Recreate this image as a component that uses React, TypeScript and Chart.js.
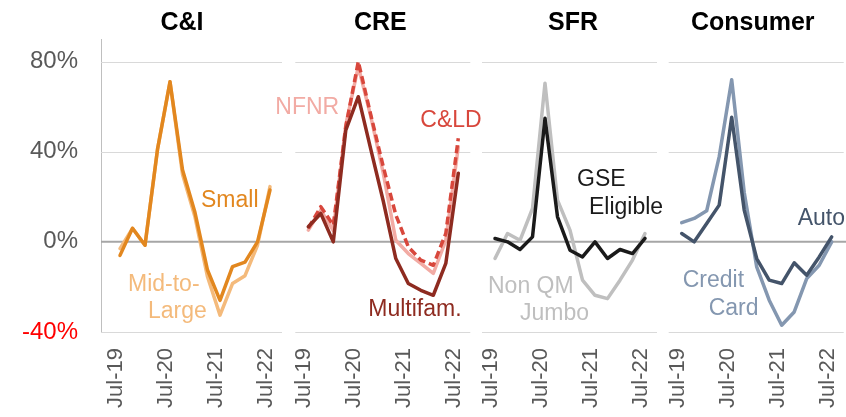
import React, { useEffect, useRef } from 'react';
import { Chart, registerables } from 'chart.js';

Chart.register(...registerables);

// ---------- data ----------
const quarters = ['Jul-19', 'Oct-19', 'Jan-20', 'Apr-20', 'Jul-20', 'Oct-20', 'Jan-21', 'Apr-21', 'Jul-21', 'Oct-21', 'Jan-22', 'Apr-22', 'Jul-22'];
const panelTitles = ['C&I', 'CRE', 'SFR', 'Consumer'];
const yTickValues = [-40, 0, 40, 80];

const ciSmall = [-6, 6, -1.5, 41, 71, 32, 13, -12.5, -26, -11, -9, 0, 23];
const ciMidLarge = [-3, 6, -1.5, 41, 71, 30, 11, -15.5, -32.5, -18.5, -15, -1.5, 24.5];

const creMultifam = [6.7, 12.6, 0, 49.6, 64.4, 41, 18, -7.4, -18.5, -21.5, -23.7, -9.6, 30.4];
const creNFNR = [5.2, 14.1, 5, 51.9, 77.8, 55.6, 30.4, 0.7, -5.2, -9.6, -14, 0.7, 42.2];
const creCLD = [6, 15.6, 7.4, 51.1, 80, 56.3, 33.3, 12, -2.2, -8.1, -10.4, 3.7, 46];

const sfrGSE = [1.5, 0, -3.4, 2.2, 54.8, 11.1, -3.7, -6.7, 0, -7.4, -3.4, -5.2, 1.5];
const sfrNonQMJumbo = [-7.4, 3.7, 0.7, 14.8, 70.4, 18.5, 5.2, -17, -23.7, -25.2, -17, -8.1, 3.7];

const conAuto = [3.7, 0, 8.1, 16.3, 55.3, 14.1, -7.4, -17, -18.5, -9.3, -14.8, -6.7, 2.2];
const conCreditCard = [8.5, 10.4, 13.8, 37.8, 71.9, 22, -11.1, -25.9, -37, -31.1, -16.3, -10.4, 0];

// ---------- styling ----------
const FONT = '"Liberation Sans", Arial, Helvetica, sans-serif';

const C_SMALL = '#E2871F';
const C_MIDLARGE = '#F4BA7B';
const C_MULTI = '#8E2B20';
const C_NFNR = '#F2ABA4';
const C_CLD = '#D8473C';
const C_GSE = '#1A1A1A';
const C_NONQM = '#BFBFBF';
const C_AUTO = '#44546A';
const C_CREDIT = '#8497B0';

type SeriesDef = { name: string; panel: number; values: number[]; color: string; dash?: number[] };

// earlier entries are drawn on top
const series: SeriesDef[] = [
  { name: 'Small', panel: 0, values: ciSmall, color: C_SMALL },
  { name: 'Mid-to-Large', panel: 0, values: ciMidLarge, color: C_MIDLARGE },
  { name: 'Multifam.', panel: 1, values: creMultifam, color: C_MULTI },
  { name: 'C&LD', panel: 1, values: creCLD, color: C_CLD, dash: [8, 4] },
  { name: 'NFNR', panel: 1, values: creNFNR, color: C_NFNR },
  { name: 'GSE Eligible', panel: 2, values: sfrGSE, color: C_GSE },
  { name: 'Non QM Jumbo', panel: 2, values: sfrNonQMJumbo, color: C_NONQM },
  { name: 'Auto', panel: 3, values: conAuto, color: C_AUTO },
  { name: 'Credit Card', panel: 3, values: conCreditCard, color: C_CREDIT },
];

// series labels, placed in each panel's data coordinates (left edge, vertical middle)
const seriesLabels = [
  { panel: 0, text: 'Small', x: 6.48, y: 18.1, color: C_SMALL },
  { panel: 0, text: 'Mid-to-', x: 0.64, y: -18.8, color: C_MIDLARGE },
  { panel: 0, text: 'Large', x: 2.24, y: -30.8, color: C_MIDLARGE },
  { panel: 1, text: 'NFNR', x: -2.64, y: 59.4, color: C_NFNR },
  { panel: 1, text: 'C&LD', x: 8.96, y: 53.6, color: C_CLD },
  { panel: 1, text: 'Multifam.', x: 4.8, y: -29.9, color: C_MULTI },
  { panel: 2, text: 'GSE', x: 6.56, y: 27.4, color: C_GSE },
  { panel: 2, text: 'Eligible', x: 7.52, y: 15, color: C_GSE },
  { panel: 2, text: 'Non QM', x: -0.56, y: -19.7, color: C_NONQM },
  { panel: 2, text: 'Jumbo', x: 2.0, y: -31.7, color: C_NONQM },
  { panel: 3, text: 'Auto', x: 9.28, y: 10.5, color: C_AUTO },
  { panel: 3, text: 'Credit', x: 0.08, y: -17, color: C_CREDIT },
  { panel: 3, text: 'Card', x: 2.16, y: -29.7, color: C_CREDIT },
];

// horizontal extents of each panel's x scale (in quarter-index units)
const panelRanges: [number, number][] = [
  [-1.52, 13.38],
  [-1.684, 13.216],
  [-1.72, 13.18],
  [-1.756, 13.144],
];
const titleOffsets = [-13, -3, 3, -4];

const panelsPlugin = {
  id: 'panelsDecor',
  beforeDatasetsDraw(chart: any) {
    const ctx = chart.ctx;
    const y = chart.scales.y;
    const area = chart.chartArea;
    ctx.save();
    // segmented gridlines
    ctx.lineWidth = 1;
    ctx.strokeStyle = '#D9D9D9';
    for (const v of yTickValues) {
      if (v === 0) continue;
      const py = Math.round(y.getPixelForValue(v)) + 0.5;
      panelTitles.forEach((_, k) => {
        const xs = chart.scales['x' + k];
        const left = k === 0 ? area.left : xs.getPixelForValue(-1.04);
        const right = Math.min(area.right, xs.getPixelForValue(12.96));
        ctx.beginPath();
        ctx.moveTo(left, py);
        ctx.lineTo(right, py);
        ctx.stroke();
      });
    }
    // continuous zero line
    const pz = y.getPixelForValue(0);
    ctx.strokeStyle = '#A6A6A6';
    ctx.lineWidth = 2;
    ctx.beginPath();
    ctx.moveTo(area.left, pz);
    ctx.lineTo(area.right, pz);
    ctx.stroke();
    ctx.restore();
  },
  afterDatasetsDraw(chart: any) {
    const ctx = chart.ctx;
    const y = chart.scales.y;
    ctx.save();
    // panel titles
    ctx.font = `bold 25px ${FONT}`;
    ctx.fillStyle = '#000000';
    ctx.textAlign = 'center';
    ctx.textBaseline = 'middle';
    panelTitles.forEach((t, k) => {
      const xs = chart.scales['x' + k];
      ctx.fillText(t, xs.getPixelForValue(6) + titleOffsets[k], 23);
    });
    // series labels
    ctx.font = `23px ${FONT}`;
    ctx.textAlign = 'left';
    for (const l of seriesLabels) {
      const xs = chart.scales['x' + l.panel];
      ctx.fillStyle = l.color;
      ctx.fillText(l.text, xs.getPixelForValue(l.x), y.getPixelForValue(l.y));
    }
    ctx.restore();
  },
};

export default function App() {
  const ref = useRef<HTMLCanvasElement | null>(null);

  useEffect(() => {
    document.body.style.margin = '0';
    const canvas = ref.current;
    if (!canvas) return;

    const xTickIdx = quarters.map((q, i) => (q.startsWith('Jul') ? i : -1)).filter((i) => i >= 0);

    const scales: any = {
      y: {
        min: -40,
        max: 90,
        afterBuildTicks: (s: any) => {
          s.ticks = yTickValues.map((v) => ({ value: v }));
        },
        afterFit: (s: any) => {
          s.width = 101;
          s.paddingTop = 0;
          s.paddingBottom = 0;
        },
        grid: { display: false, drawTicks: false },
        border: { display: true, color: '#BFBFBF', width: 1 },
        ticks: {
          padding: 23,
          font: { family: FONT, size: 24 },
          color: (c: any) => (c.tick && c.tick.value < 0 ? '#FF0000' : '#595959'),
          callback: (v: any) => v + '%',
        },
      },
    };
    panelRanges.forEach(([mn, mx], k) => {
      scales['x' + k] = {
        type: 'linear',
        position: 'bottom',
        stack: 'panels',
        stackWeight: 1,
        min: mn,
        max: mx,
        afterBuildTicks: (s: any) => {
          s.ticks = xTickIdx.map((i) => ({ value: i }));
        },
        afterFit: (s: any) => {
          s.height = 85;
          s.paddingLeft = 0;
          s.paddingRight = 0;
        },
        grid: { display: false, drawTicks: false },
        border: { display: false },
        ticks: {
          autoSkip: false,
          minRotation: 90,
          maxRotation: 90,
          padding: 16,
          labelOffset: -4,
          font: { family: FONT, size: 22 },
          color: '#595959',
          callback: (v: any) => quarters[Math.round(v)] ?? '',
        },
      };
    });

    const chart = new Chart(canvas, {
      type: 'line',
      data: {
        datasets: series.map((s) => ({
          label: s.name,
          xAxisID: 'x' + s.panel,
          yAxisID: 'y',
          data: s.values.map((v, i) => ({ x: i, y: v })),
          borderColor: s.color,
          backgroundColor: s.color,
          borderWidth: 3.5,
          borderDash: s.dash || [],
          borderJoinStyle: 'round',
          borderCapStyle: s.dash ? 'butt' : 'round',
          pointRadius: 0,
          tension: 0,
          fill: false,
        })) as any,
      },
      options: {
        animation: false,
        responsive: false,
        maintainAspectRatio: false,
        layout: { padding: { top: 39, left: 0, right: 0, bottom: 0 } },
        plugins: { legend: { display: false }, tooltip: { enabled: false } },
        scales,
      } as any,
      plugins: [panelsPlugin],
    });

    return () => chart.destroy();
  }, []);

  return (
    <div style={{ width: 846, height: 417, background: '#FFFFFF' }}>
      <canvas ref={ref} width={846} height={417} style={{ display: 'block' }} />
    </div>
  );
}
